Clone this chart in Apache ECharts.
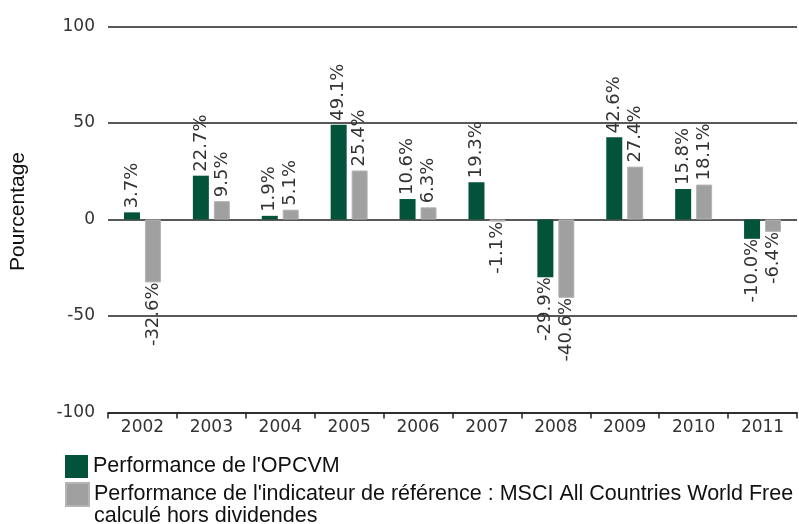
<!DOCTYPE html>
<html>
<head>
<meta charset="utf-8">
<script src="https://cdn.jsdelivr.net/npm/echarts@6/dist/echarts.min.js"></script>
<style>html,body{margin:0;padding:0;background:#fff}#c{width:799px;height:524px}</style>
</head>
<body>
<div id="c"></div>
<script>
const categories = ['2002','2003','2004','2005','2006','2007','2008','2009','2010','2011'];
const opcvmValues = [3.7, 22.7, 1.9, 49.1, 10.6, 19.3, -29.9, 42.6, 15.8, -10.0];
const refValues = [-32.6, 9.5, 5.1, 25.4, 6.3, -1.1, -40.6, 27.4, 18.1, -6.4];
const yTicks = [-100, -50, 0, 50, 100];
const seriesNames = ["Performance de l'OPCVM", "Performance de l'indicateur de référence : MSCI All Countries World Free\ncalculé hors dividendes"];

const GREEN = '#03533B';
const GRAY = '#A0A0A0';

function items(vals) {
  return vals.map(v => ({
    value: v,
    label: v >= 0
      ? { position: 'top', align: 'left', verticalAlign: 'middle' }
      : { position: 'bottom', align: 'right', verticalAlign: 'middle' }
  }));
}
const labelCommon = {
  show: true, rotate: 90, distance: 2, offset: [2, 0],
  fontFamily: 'DejaVu Sans', fontSize: 18, color: '#333',
  formatter: p => p.value.toFixed(1) + '%'
};
const legendText = { fontFamily: 'Liberation Sans', fontSize: 21.5, color: '#111', lineHeight: 22 };

const chart = echarts.init(document.getElementById('c'), null, {renderer: 'canvas'});
chart.setOption({
  animation: false,
  grid: { left: 107, right: 2, top: 26.5, bottom: 111.5 },
  legend: [
    { data: [seriesNames[0]], orient: 'vertical', left: 65, top: 455, padding: 0,
      itemWidth: 23, itemHeight: 23, icon: 'rect', textStyle: legendText },
    { data: [seriesNames[1]], orient: 'vertical', left: 65, top: 461.5, padding: 0,
      itemWidth: 23, itemHeight: 23, icon: 'rect', textStyle: legendText,
      formatter: name => '\n' + name }
  ],
  xAxis: {
    type: 'category', data: categories, boundaryGap: true,
    axisLine: { onZero: false, lineStyle: { color: '#222', width: 1.5 } },
    axisTick: { show: true, length: 6, lineStyle: { color: '#222', width: 1.5 } },
    axisLabel: { fontFamily: 'DejaVu Sans', fontSize: 17, color: '#333', margin: 7 }
  },
  yAxis: {
    type: 'value', min: yTicks[0], max: yTicks[yTicks.length - 1], interval: 50,
    name: 'Pourcentage', nameLocation: 'middle', nameGap: 79, nameRotate: 90,
    nameTextStyle: { fontFamily: 'Liberation Sans', fontSize: 21, color: '#111', padding: [0, 0, 0, 16] },
    axisLine: { show: false }, axisTick: { show: false },
    axisLabel: { fontFamily: 'DejaVu Sans', fontSize: 17, color: '#333', margin: 13 },
    splitLine: { lineStyle: { color: '#222', width: 1.5 } }
  },
  series: [
    { name: seriesNames[0], type: 'bar', data: items(opcvmValues),
      itemStyle: { color: GREEN }, barWidth: 16, barGap: '31%', label: labelCommon },
    { name: seriesNames[1], type: 'bar', data: items(refValues),
      itemStyle: { color: GRAY, borderColor: '#b4b4b4', borderWidth: 1 }, barWidth: 16, label: labelCommon }
  ]
});
</script>
</body>
</html>
